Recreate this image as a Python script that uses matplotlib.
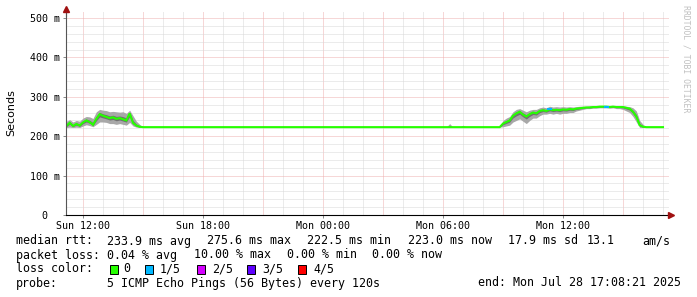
import matplotlib
matplotlib.use("Agg")
import matplotlib.pyplot as plt
import numpy as np

plt.rcParams["lines.scale_dashes"] = False

# ---------------- data (ms), one sample every 10 minutes from Sun 11:10 ----------------
start_hour = 11 + 10 / 60.0          # hours since Sun 00:00
step_hours = 10 / 60.0

median_ms = [
    226, 234, 226, 231, 227, 235, 240, 236, 229, 244, 256, 252, 249, 246, 248, 244, 246, 243,
    240, 258, 234, 227, 224,
    223, 223, 223, 223, 223, 223, 223, 223, 223, 223, 223, 223, 223, 223, 223, 223, 223, 223,
    223, 223, 223, 223, 223, 223, 223, 223, 223, 223, 223, 223, 223, 223, 223, 223, 223, 223,
    223, 223, 223, 223, 223, 223, 223, 223, 223, 223, 223, 223, 223, 223, 223, 223, 223, 223,
    223, 223, 223, 223, 223, 223, 223, 223, 223, 223, 223, 223, 223, 223, 223, 223, 223, 223,
    223, 223, 223, 223, 223, 223, 223, 223, 223, 223, 223, 223, 223, 223, 223, 223, 223, 223,
    223, 223, 223, 223, 223, 223, 223, 223, 223, 223, 223, 223, 223, 223, 223, 223, 223, 223,
    232, 236, 240, 252, 258, 262, 255, 250, 256, 260, 258, 264, 266, 264, 268, 266, 267, 266,
    268, 267, 269, 268, 270, 271, 272, 273, 273, 274, 274, 275, 275, 275, 274, 275, 274, 274,
    274, 272, 270, 262, 250, 228, 224,
    223, 223, 223, 223, 223, 223,
]

smoke_hi_ms = [
    238, 242, 236, 240, 238, 246, 250, 249, 245, 262, 268, 266, 265, 262, 263, 262, 261, 262,
    258, 266, 252, 238, 230,
    223, 223, 223, 223, 223, 223, 223, 223, 223, 223, 223, 223, 223, 223, 223, 223, 223, 223,
    223, 223, 223, 223, 223, 223, 223, 223, 223, 223, 223, 223, 223, 223, 223, 223, 223, 223,
    223, 223, 223, 223, 223, 223, 223, 223, 223, 223, 223, 223, 223, 223, 223, 223, 223, 223,
    223, 223, 223, 223, 223, 223, 223, 223, 223, 223, 223, 223, 223, 223, 223, 223, 223, 223,
    223, 223, 223, 223, 223, 223, 223, 223, 223, 223, 223, 223, 223, 223, 223, 223, 223, 223,
    223, 223, 232, 223, 223, 223, 228, 223, 223, 223, 223, 223, 223, 223, 223, 223, 223, 223,
    240, 246, 250, 262, 268, 270, 266, 262, 266, 268, 268, 272, 274, 272, 276, 274, 275, 274,
    275, 274, 275, 274, 275, 276, 276, 276, 277, 277, 277, 277, 278, 277, 277, 277, 277, 277,
    277, 276, 275, 272, 264, 240, 230,
    223, 223, 223, 223, 223, 223,
]

smoke_lo_ms = [
    222, 223, 222, 223, 222, 226, 229, 227, 224, 230, 236, 236, 235, 232, 232, 230, 232, 230,
    228, 235, 226, 223, 222,
    223, 223, 223, 223, 223, 223, 223, 223, 223, 223, 223, 223, 223, 223, 223, 223, 223, 223,
    223, 223, 223, 223, 223, 223, 223, 223, 223, 223, 223, 223, 223, 223, 223, 223, 223, 223,
    223, 223, 223, 223, 223, 223, 223, 223, 223, 223, 223, 223, 223, 223, 223, 223, 223, 223,
    223, 223, 223, 223, 223, 223, 223, 223, 223, 223, 223, 223, 223, 223, 223, 223, 223, 223,
    223, 223, 223, 223, 223, 223, 223, 223, 223, 223, 223, 223, 223, 223, 223, 223, 223, 223,
    223, 223, 222, 223, 223, 223, 222, 223, 223, 223, 223, 223, 223, 223, 223, 223, 223, 223,
    224, 226, 228, 236, 240, 244, 238, 232, 240, 246, 246, 252, 256, 256, 258, 256, 258, 256,
    258, 258, 260, 260, 264, 266, 268, 270, 270, 271, 271, 272, 272, 272, 271, 272, 270, 270,
    268, 264, 260, 250, 236, 222, 222,
    223, 223, 223, 223, 223, 223,
]

# samples (by index) where 1 of 5 pings was lost
loss_1of5_idx = [145, 162]

x_tick_hours = [12, 18, 24, 30, 36]
x_tick_labels = ["Sun 12:00", "Sun 18:00", "Mon 00:00", "Mon 06:00", "Mon 12:00"]
y_tick_values = [0.0, 0.1, 0.2, 0.3, 0.4, 0.5]
y_tick_labels = ["0  ", "100 m", "200 m", "300 m", "400 m", "500 m"]

legend_lines = [
    [("median rtt:", 16), ("233.9 ms avg", 107), ("275.6 ms max", 207), ("222.5 ms min", 307),
     ("223.0 ms now", 408), ("17.9 ms sd", 508), ("13.1", 587), ("am/s", 642)],
    [("packet loss:", 16), ("0.04 % avg", 107), ("10.00 % max", 194), ("0.00 % min", 287),
     ("0.00 % now", 372)],
]
loss_labels = ["0", "1/5", "2/5", "3/5", "4/5"]
loss_colors = ["#26ff00", "#00b8ff", "#d400ff", "#5e00ff", "#ff0000"]
probe_text = "5 ICMP Echo Pings (56 Bytes) every 120s"
end_text = "end: Mon Jul 28 17:08:21 2025"

# ---------------- figure ----------------
W, H = 697, 297
fig = plt.figure(figsize=(W / 100, H / 100), dpi=100)
fig.patch.set_facecolor("white")

ax_l, ax_r, ax_b, ax_t = 66, 669, 215, 12
ax = fig.add_axes([ax_l / W, 1 - ax_b / H, (ax_r - ax_l) / W, (ax_b - ax_t) / H])
ax.set_facecolor("white")

x_left = 12 - (83 - ax_l) / 20.0
x_right = x_left + (ax_r - ax_l) / 20.0
ax.set_xlim(x_left, x_right)
ax.set_ylim(0, (ax_b - ax_t) / 394.0)

# grid (1 px on, 1 px off)
grid_kw = dict(linewidth=0.72, linestyle=(0, (0.72, 0.72)), antialiased=True, zorder=0.5)
minor_col = "#d8d8d8"
major_col = "#eeb0b0"
for h in np.arange(12, x_right, 1.0):
    if h % 3 == 0:
        continue
    ax.axvline(h, color=minor_col, **grid_kw)
for h in np.arange(12 - 3, x_right, 3.0):
    if h > x_left:
        ax.axvline(h, color=major_col, **grid_kw)
for v in np.arange(0.02, 0.515, 0.02):
    if abs(v * 10 - round(v * 10)) < 1e-6:
        continue
    ax.axhline(v, color=minor_col, **grid_kw)
for v in y_tick_values[1:]:
    ax.axhline(v, color=major_col, **grid_kw)

t = start_hour + step_hours * np.arange(len(median_ms))
med = np.array(median_ms) / 1000.0
hi = np.array(smoke_hi_ms) / 1000.0
lo = np.array(smoke_lo_ms) / 1000.0

ax.fill_between(t, lo, hi, color="#a8a8a8", linewidth=0, antialiased=False, zorder=1)
ax.fill_between(t, med - (med - lo) * 0.35, med + (hi - med) * 0.35,
                color="#707070", linewidth=0, antialiased=False, zorder=1.1)
ax.plot(t, med, color="#26ff00", linewidth=1.5, zorder=2, solid_joinstyle="miter")
for i in loss_1of5_idx:
    ax.plot([t[i] - step_hours / 2, t[i] + step_hours / 2], [med[i], med[i]],
            color=loss_colors[1], linewidth=1.5, zorder=2.1)

# axes spines
for s in ["top", "right"]:
    ax.spines[s].set_visible(False)
ax.spines["left"].set_color("#555555")
ax.spines["bottom"].set_color("#000000")
ax.spines["left"].set_linewidth(0.8)
ax.spines["bottom"].set_linewidth(0.8)

ax.set_xticks(x_tick_hours)
ax.set_xticklabels(x_tick_labels, family="DejaVu Sans Mono", fontsize=7.2)
ax.set_yticks(y_tick_values)
ax.set_yticklabels(y_tick_labels, family="DejaVu Sans Mono", fontsize=7.2)
ax.tick_params(axis="both", length=2, width=0.7, color="#888888", pad=2.5)

# arrows
ax.plot([0], [1.015], marker="^", markersize=4, color="#a01010", transform=ax.transAxes,
        clip_on=False, zorder=5)
ax.plot([0, 0], [0.98, 1.01], color="#555555", linewidth=0.8, transform=ax.transAxes,
        clip_on=False, zorder=4)
ax.plot([1.003], [0.0], marker=">", markersize=4, color="#a01010", transform=ax.transAxes,
        clip_on=False, zorder=5)

fig.text(11 / W, 1 - 113 / H, "Seconds", rotation=90, ha="center", va="center",
         family="DejaVu Sans", fontsize=8)
fig.text(686 / W, 1 - 5 / H, "RRDTOOL / TOBI OETIKER", rotation=270, ha="center", va="top",
         family="DejaVu Sans Mono", fontsize=5.9, color="#c0c0c0")

mono = dict(family="DejaVu Sans Mono", fontsize=8.4, va="center", color="#000000")
line_y = [241, 255, 269, 283]
for row, y in zip(legend_lines, line_y[:2]):
    for txt, x in row:
        fig.text(x / W, 1 - y / H, txt, ha="left", **mono)

fig.text(16 / W, 1 - line_y[2] / H, "loss color:", ha="left", **mono)
box_x = [110, 145, 197, 247, 298]
lab_x = [123, 160, 212, 262, 313]
for bx, lx, col, lab in zip(box_x, lab_x, loss_colors, loss_labels):
    fig.patches.append(plt.Rectangle((bx / W, 1 - (line_y[2] + 4.5) / H), 8 / W, 9 / H,
                                     transform=fig.transFigure, facecolor=col,
                                     edgecolor="#000000", linewidth=0.7))
    fig.text(lx / W, 1 - line_y[2] / H, lab, ha="left", **mono)

fig.text(16 / W, 1 - line_y[3] / H, "probe:", ha="left", **mono)
fig.text(107 / W, 1 - line_y[3] / H, probe_text, ha="left", **mono)
fig.text(681 / W, 1 - line_y[3] / H, end_text, ha="right", **mono)

fig.savefig("out.png", dpi=100, facecolor="white")
